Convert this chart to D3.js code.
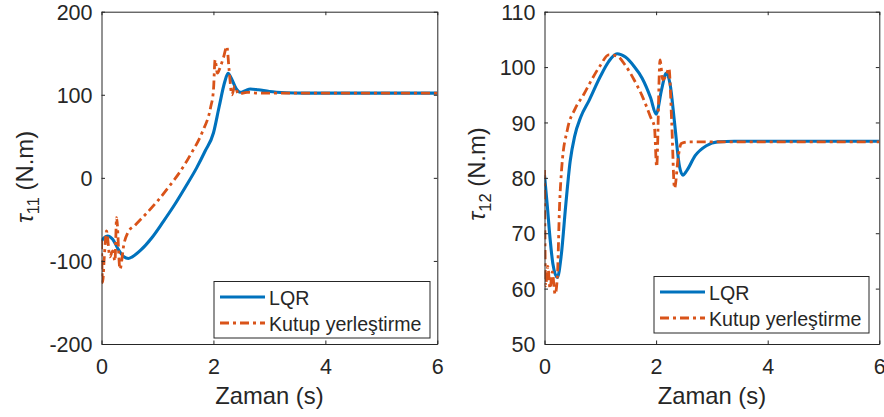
<!DOCTYPE html>
<html>
<head>
<meta charset="utf-8">
<script src="https://cdn.jsdelivr.net/npm/d3@7"></script>
<style>
  html, body { margin: 0; padding: 0; background: #fff; }
  svg { display: block; }
  text { font-family: "Liberation Sans", Arial, Helvetica, sans-serif; fill: #262626; }
</style>
</head>
<body>
<svg id="chart" width="884" height="417"></svg>
<script>
// ---------------- DATA ----------------
const xTicks = [0, 2, 4, 6];
const yTicksLeft = [-200, -100, 0, 100, 200];
const yTicksRight = [50, 60, 70, 80, 90, 100, 110];
const seriesNames = ["LQR", "Kutup yerleştirme"];

// Left panel: tau_11
const t11LQR = [0, 0.05, 0.11, 0.2, 0.3, 0.4, 0.48, 0.55, 0.7, 0.9, 1.1, 1.3, 1.5, 1.7, 1.85, 2.0, 2.1, 2.2, 2.26, 2.32, 2.4, 2.48, 2.57, 2.66, 2.8, 3.0, 3.3, 3.6, 6];
const v11LQR = [-76, -72, -70, -74, -86, -95, -97, -95, -87, -72, -53, -33, -11, 12, 32, 54, 85, 115, 126, 120, 108, 103, 105, 107, 106, 104, 102.5, 102, 102];
const t11PP = [0, 0.02, 0.05, 0.09, 0.15, 0.2, 0.24, 0.27, 0.33, 0.4, 0.47, 0.6, 0.8, 1.0, 1.2, 1.4, 1.6, 1.8, 1.95, 2.0, 2.03, 2.07, 2.12, 2.18, 2.24, 2.28, 2.33, 2.38, 2.45, 2.6, 2.8, 3.0, 6];
const v11PP = [-75, -126, -95, -64, -95, -88, -100, -48, -110, -80, -66, -57, -43, -28, -11, 7, 29, 55, 85, 105, 142, 126, 133, 145, 158, 130, 100, 110, 101, 103, 102, 102, 102];

// Right panel: tau_12
const t12LQR = [0, 0.05, 0.1, 0.15, 0.23, 0.3, 0.38, 0.46, 0.54, 0.65, 0.8, 1.0, 1.15, 1.3, 1.45, 1.6, 1.75, 1.9, 2.0, 2.1, 2.18, 2.25, 2.33, 2.42, 2.48, 2.55, 2.7, 2.9, 3.1, 3.4, 6];
const v12LQR = [80.5, 75, 69, 64.5, 62, 66, 75, 83, 87.5, 91, 94, 98.3, 101, 102.4, 101.8, 100.2, 98, 94.5, 91.5, 96, 98.9, 97, 90, 82, 80.5, 81.3, 84, 85.8, 86.5, 86.6, 86.6];
const t12PP = [0, 0.02, 0.06, 0.1, 0.14, 0.19, 0.23, 0.27, 0.31, 0.41, 0.55, 0.7, 0.85, 1.0, 1.15, 1.3, 1.45, 1.6, 1.75, 1.9, 1.97, 2.01, 2.07, 2.12, 2.18, 2.23, 2.28, 2.33, 2.4, 2.45, 2.6, 6];
const v12PP = [81.4, 60.5, 64, 60, 63, 59, 62, 75, 82, 88.7, 92.5, 95, 97.8, 100.3, 102.2, 102, 100.3, 97.8, 94.8, 91, 89.2, 82, 101.3, 97.7, 98.5, 99.8, 90, 78.1, 84, 86.2, 86.5, 86.5];

// ---------------- DRAW ----------------
const svg = d3.select("#chart");
const AX = "#262626";
const BLUE = "#0072BD";
const ORANGE = "#D95319";
const DASH = "9,4,3,4";
const TICKFS = 21.5, LABELFS = 23.8, LEGFS = 19.6;
const BW = 3.1, RW = 2.8;

function zip(t, v) { return t.map((d, i) => ({ t: d, v: v[i] })); }

function panel(cfg) {
  const x = d3.scaleLinear().domain([0, 6]).range([cfg.left, cfg.right]);
  const y = d3.scaleLinear().domain(cfg.yDomain).range([cfg.bottom, cfg.top]);
  const g = svg.append("g");

  const clipId = "clip" + cfg.id;
  svg.append("defs").append("clipPath").attr("id", clipId)
    .append("rect").attr("x", cfg.left).attr("y", cfg.top)
    .attr("width", cfg.right - cfg.left).attr("height", cfg.bottom - cfg.top);

  const line = d3.line().x(d => x(d.t)).y(d => y(d.v)).curve(d3.curveMonotoneX);
  const lg = g.append("g").attr("clip-path", `url(#${clipId})`);
  lg.append("path").datum(zip(cfg.tA, cfg.vA)).attr("d", line)
    .attr("fill", "none").attr("stroke", BLUE).attr("stroke-width", BW)
    .attr("stroke-linejoin", "round");
  lg.append("path").datum(zip(cfg.tB, cfg.vB)).attr("d", line)
    .attr("fill", "none").attr("stroke", ORANGE).attr("stroke-width", RW)
    .attr("stroke-dasharray", DASH);

  // Axes (inward ticks, mirrored)
  const tl = 3.5;
  const fmt = d => (d < 0 ? "-" + Math.abs(d) : String(d));
  const bottomAxis = d3.axisBottom(x).tickValues(xTicks).tickSizeInner(-tl).tickSizeOuter(0).tickFormat(fmt);
  const topAxis = d3.axisTop(x).tickValues(xTicks).tickSizeInner(-tl).tickSizeOuter(0).tickFormat("");
  const leftAxis = d3.axisLeft(y).tickValues(cfg.yTicks).tickSizeInner(-tl).tickSizeOuter(0).tickPadding(9).tickFormat(fmt);
  const rightAxis = d3.axisRight(y).tickValues(cfg.yTicks).tickSizeInner(-tl).tickSizeOuter(0).tickFormat("");

  const gb = g.append("g").attr("transform", `translate(0,${cfg.bottom})`).call(bottomAxis);
  const gt = g.append("g").attr("transform", `translate(0,${cfg.top})`).call(topAxis);
  const gl = g.append("g").attr("transform", `translate(${cfg.left},0)`).call(leftAxis);
  const gr = g.append("g").attr("transform", `translate(${cfg.right},0)`).call(rightAxis);
  [gb, gt, gl, gr].forEach(a => {
    a.select(".domain").attr("stroke", AX).attr("stroke-width", 1);
    a.selectAll(".tick line").attr("stroke", AX).attr("stroke-width", 1);
    a.selectAll(".tick text").attr("fill", AX).style("font-size", TICKFS + "px")
      .style("font-family", '"Liberation Sans", Arial, sans-serif');
  });
  gb.selectAll(".tick text").attr("dy", null).attr("y", 30);
  gl.selectAll(".tick text").attr("dy", "0.36em");

  // x label
  g.append("text").attr("x", (cfg.left + cfg.right) / 2).attr("y", 404)
    .attr("text-anchor", "middle").style("font-size", LABELFS + "px").text("Zaman (s)");

  // y label
  const yl = g.append("text")
    .attr("transform", `translate(${cfg.ylabX},${cfg.ylabY}) rotate(-90)`)
    .attr("text-anchor", "middle").style("font-size", LABELFS + "px");
  yl.append("tspan").style("font-style", "italic").text("τ");
  yl.append("tspan").attr("dy", 6).style("font-size", "16.5px").text(cfg.sub);
  yl.append("tspan").attr("dy", -6).text(" (N.m)");

  // legend
  const L = cfg.leg;
  const lgd = g.append("g");
  lgd.append("rect").attr("x", L.x).attr("y", L.y).attr("width", L.w).attr("height", L.h)
    .attr("fill", "#fff").attr("stroke", AX).attr("stroke-width", 1);
  const rows = [
    { name: seriesNames[0], color: BLUE, dash: null, sw: BW },
    { name: seriesNames[1], color: ORANGE, dash: DASH, sw: RW }
  ];
  rows.forEach((r, i) => {
    const cy = L.y + 15.5 + i * 26;
    lgd.append("line").attr("x1", L.x + 6).attr("x2", L.x + 51).attr("y1", cy).attr("y2", cy)
      .attr("stroke", r.color).attr("stroke-width", r.sw).attr("stroke-dasharray", r.dash);
    lgd.append("text").attr("x", L.x + 55).attr("y", cy + 7.5)
      .style("font-size", LEGFS + "px").text(r.name);
  });
}

panel({
  id: "L", left: 101.5, right: 437.3, top: 11.7, bottom: 344,
  yDomain: [-200, 200], yTicks: yTicksLeft,
  tA: t11LQR, vA: v11LQR, tB: t11PP, vB: v11PP,
  ylabX: 33, ylabY: 177, sub: "11",
  leg: { x: 214, y: 281.5, w: 216, h: 56.5 }
});
panel({
  id: "R", left: 544.5, right: 879.3, top: 11.7, bottom: 344,
  yDomain: [50, 110], yTicks: yTicksRight,
  tA: t12LQR, vA: v12LQR, tB: t12PP, vB: v12PP,
  ylabX: 485, ylabY: 174, sub: "12",
  leg: { x: 654, y: 276.5, w: 215, h: 56.5 }
});
</script>
</body>
</html>
